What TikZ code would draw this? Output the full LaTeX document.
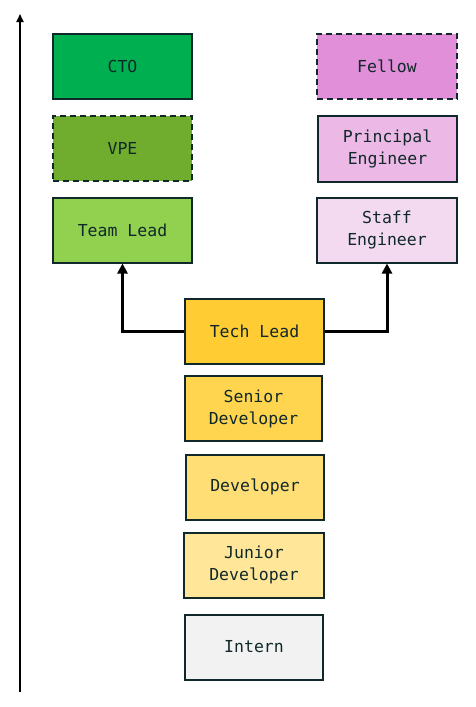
\documentclass[tikz,border=0pt]{standalone}
\usepackage{fontspec}
\setmonofont{DejaVu Sans Mono}
\usetikzlibrary{arrows.meta}
\definecolor{edge}{HTML}{10282A}
\definecolor{ctoc}{HTML}{00B050}
\definecolor{vpec}{HTML}{70AD2F}
\definecolor{tlc}{HTML}{92D050}
\definecolor{felc}{HTML}{E08FD8}
\definecolor{prc}{HTML}{ECB8E6}
\definecolor{stc}{HTML}{F3DAF0}
\definecolor{techc}{HTML}{FFCC33}
\definecolor{senc}{HTML}{FFD54F}
\definecolor{devc}{HTML}{FFDE75}
\definecolor{junc}{HTML}{FFE699}
\definecolor{intc}{HTML}{F2F2F2}
\tikzset{
  rolebox/.style={draw=edge, line width=2pt, rectangle, minimum width=139pt, minimum height=65pt,
    align=center, text=edge, inner sep=0pt, font=\ttfamily\fontsize{16.5}{22}\selectfont},
  dashbox/.style={dash pattern=on 6pt off 4pt},
  conn/.style={line width=3pt, -{Triangle[length=10pt,width=10pt]}},
}
\begin{document}
\begin{tikzpicture}[x=1pt,y=-1pt]
\useasboundingbox[fill=white] (0,0) rectangle (475,707);
\coordinate (axb) at (20,692);
\coordinate (axt) at (20,14);
\draw[line width=1.8pt, -{Triangle[length=8pt,width=7pt]}] (axb) -- (axt);

\node[rolebox, fill=ctoc] (cto) at (122.5,66.5) {CTO};
\node[rolebox, dashbox, fill=vpec] (vpe) at (122.5,148.5) {VPE};
\node[rolebox, fill=tlc] (team) at (122.5,230) {Team Lead};

\node[rolebox, dashbox, fill=felc, minimum width=140pt] (fellow) at (387,66.5) {Fellow};
\node[rolebox, fill=prc, minimum height=66pt] (principal) at (387.5,149) {Principal\\Engineer};
\node[rolebox, fill=stc, minimum width=140pt] (staff) at (387,230) {Staff\\Engineer};

\node[rolebox, fill=techc] (tech) at (254.5,331) {Tech Lead};
\node[rolebox, fill=senc, minimum width=137pt] (senior) at (253.5,408.5) {Senior\\Developer};
\node[rolebox, fill=devc, minimum width=138pt] (dev) at (255,487) {Developer};
\node[rolebox, fill=junc, minimum width=140pt] (junior) at (254,565) {Junior\\Developer};
\node[rolebox, fill=intc, minimum width=138pt] (intern) at (254,647) {Intern};

\draw[conn] (tech.west) -| (team.south);
\draw[conn] (tech.east) -| (staff.south);
\end{tikzpicture}
\end{document}
